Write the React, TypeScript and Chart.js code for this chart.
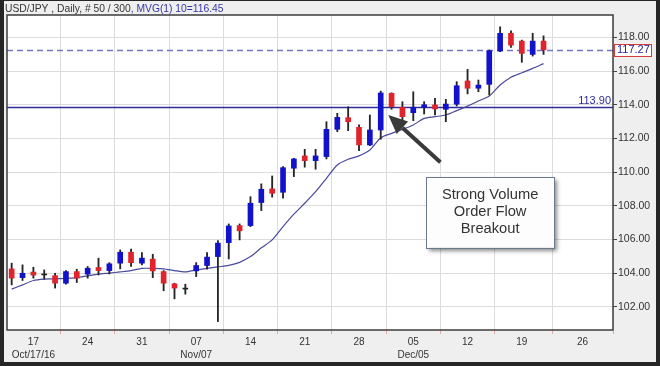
import { useEffect, useRef } from "react";
import { Chart, registerables } from "chart.js";

Chart.register(...registerables);

// ---- data ----
const openP = [104.26, 103.74, 104.07, 103.9, 103.86, 103.41, 104.1, 103.95, 104.34, 104.16,
  104.6, 105.25, 104.6, 104.84, 104.1, 103.37, 103.06, 104.14, 104.46, 104.99,
  105.82, 106.83, 106.83, 108.2, 109.01, 108.81, 110.24, 110.97, 110.69, 110.93,
  112.55, 113.24, 112.67, 111.62, 112.51, 114.69, 113.86, 113.54, 113.86, 114.0,
  113.74, 114.04, 115.42, 114.99, 115.22, 117.2, 118.25, 117.79, 117.0, 117.79];
const highP = [104.6, 104.5, 104.36, 104.2, 104.0, 104.16, 104.24, 104.4, 104.9, 104.63,
  105.39, 105.43, 105.23, 105.13, 104.16, 103.41, 103.35, 104.63, 105.23, 105.94,
  106.93, 106.93, 108.55, 109.31, 109.78, 110.33, 110.83, 111.36, 111.36, 113.0,
  113.5, 113.89, 112.81, 113.4, 114.82, 114.72, 114.19, 114.78, 114.19, 114.39,
  114.33, 115.38, 116.11, 115.48, 117.26, 118.64, 118.4, 117.85, 118.25, 118.1];
const lowP = [103.31, 103.57, 103.71, 103.65, 103.12, 103.35, 103.45, 103.71, 103.9, 103.96,
  104.26, 104.4, 104.5, 103.74, 102.96, 102.48, 102.76, 103.8, 104.24, 101.13,
  104.85, 105.98, 106.77, 107.72, 108.52, 108.46, 109.74, 110.3, 110.18, 110.79,
  112.41, 112.47, 111.28, 111.58, 111.96, 113.74, 113.1, 113.06, 113.46, 113.4,
  113.0, 113.93, 114.65, 114.78, 114.59, 117.16, 117.42, 116.53, 116.9, 117.0];
const closeP = [103.71, 104.0, 103.89, 103.93, 103.41, 104.1, 103.71, 104.3, 104.16, 104.56,
  105.25, 104.63, 104.9, 104.14, 103.41, 103.12, 103.07, 104.46, 104.96, 105.79,
  106.81, 106.52, 108.16, 108.99, 108.75, 110.27, 110.79, 110.69, 110.97, 112.55,
  113.26, 113.0, 111.62, 112.51, 114.71, 113.89, 113.3, 113.86, 114.01, 113.76,
  114.05, 115.14, 114.99, 115.18, 117.22, 118.25, 117.55, 117.06, 117.79, 117.27];
const maP = [103.06, 103.31, 103.57, 103.65, 103.67, 103.7, 103.74, 103.85, 103.95, 104.01,
  104.08, 104.16, 104.29, 104.29, 104.26, 104.16, 104.08, 104.2, 104.29, 104.38,
  104.47, 104.65, 104.99, 105.51, 105.98, 106.77, 107.51, 108.16, 108.85, 109.64,
  110.43, 110.77, 110.97, 111.32, 112.05, 112.31, 112.55, 112.81, 113.2, 113.3,
  113.4, 113.66, 113.93, 114.23, 114.53, 115.18, 115.64, 115.91, 116.17, 116.45];

const xTickPos = [2, 7, 12, 17, 22, 27, 32, 37, 42, 47, 52.6];
const xTickDay = ["17", "24", "31", "07", "14", "21", "28", "05", "12", "19", "26"];
const xTickMonth = ["Oct/17/16", "", "", "Nov/07", "", "", "", "Dec/05", "", "", ""];
const yTicks = [102, 104, 106, 108, 110, 112, 114, 116, 118];

const lastClose = 117.27;
const levelValue = 113.9;
const titleMain = "USD/JPY , Daily, # 50 / 300";
const titleMA = ", MVG(1) 10=116.45";
const noteLines = ["Strong Volume", "Order Flow", "Breakout"];
// annotation anchors in data units (bar index, price)
const arrowFrom = [39.5, 110.6];
const arrowTo = [34.7, 113.4];
const noteBox = [38.18, 109.72, 49.98, 105.51];

const FONT = '"Liberation Sans", Arial, sans-serif';
const UP = "#1212cc";
const DOWN = "#e3232c";
const DOJI = "#222222";

const idx = closeP.map((_, i) => i);

const overlayPlugin = {
  id: "overlay",
  beforeDraw(chart: any) {
    const { ctx, width, height, chartArea: a } = chart;
    ctx.save();
    ctx.fillStyle = "#262626";
    ctx.fillRect(0, 0, width, height);
    ctx.fillStyle = "#efefef";
    ctx.fillRect(4, 1, width - 8, height - 5);
    ctx.fillStyle = "#ffffff";
    ctx.fillRect(a.left, a.top, a.right - a.left, a.bottom - a.top);
    ctx.font = "10.3px " + FONT;
    ctx.textBaseline = "middle";
    ctx.textAlign = "left";
    ctx.fillStyle = "#333333";
    ctx.fillText(titleMain, 5, 9.5);
    const w = ctx.measureText(titleMain).width;
    ctx.fillStyle = "#3636a6";
    ctx.fillText(titleMA, 5 + w, 9.5);
    ctx.restore();
  },
  beforeDatasetsDraw(chart: any) {
    const { ctx, chartArea: a, scales } = chart;
    const y = scales.y;
    ctx.save();
    const yd = Math.round(y.getPixelForValue(lastClose)) + 0.5;
    ctx.strokeStyle = "#7676c6";
    ctx.lineWidth = 1.5;
    ctx.setLineDash([6, 4]);
    ctx.beginPath();
    ctx.moveTo(a.left, yd);
    ctx.lineTo(a.right, yd);
    ctx.stroke();
    ctx.setLineDash([]);
    const yl = Math.round(y.getPixelForValue(levelValue)) + 0.5;
    ctx.strokeStyle = "#2d2d9c";
    ctx.lineWidth = 1.3;
    ctx.beginPath();
    ctx.moveTo(a.left, yl);
    ctx.lineTo(a.right, yl);
    ctx.stroke();
    ctx.restore();
  },
  afterDatasetsDraw(chart: any) {
    const { ctx, chartArea: a, scales } = chart;
    const x = scales.x;
    const y = scales.y;
    ctx.save();
    // level label
    const yl = y.getPixelForValue(levelValue);
    ctx.font = "11px " + FONT;
    ctx.fillStyle = "#2b2ba0";
    ctx.textAlign = "right";
    ctx.textBaseline = "bottom";
    ctx.fillText(levelValue.toFixed(2), a.right - 2, yl);
    // arrow
    const x0 = x.getPixelForValue(arrowFrom[0]);
    const y0 = y.getPixelForValue(arrowFrom[1]);
    const x1 = x.getPixelForValue(arrowTo[0]);
    const y1 = y.getPixelForValue(arrowTo[1]);
    const ang = Math.atan2(y1 - y0, x1 - x0);
    const headLen = 19;
    const headW = 8.5;
    const bx = x1 - headLen * Math.cos(ang);
    const by = y1 - headLen * Math.sin(ang);
    ctx.strokeStyle = "#3a3a3a";
    ctx.fillStyle = "#3a3a3a";
    ctx.lineWidth = 4;
    ctx.lineCap = "butt";
    ctx.beginPath();
    ctx.moveTo(x0, y0);
    ctx.lineTo(bx, by);
    ctx.stroke();
    ctx.beginPath();
    ctx.moveTo(x1, y1);
    ctx.lineTo(bx + headW * Math.sin(ang), by - headW * Math.cos(ang));
    ctx.lineTo(bx - headW * Math.sin(ang), by + headW * Math.cos(ang));
    ctx.closePath();
    ctx.fill();
    // note box
    const l = x.getPixelForValue(noteBox[0]);
    const t = y.getPixelForValue(noteBox[1]);
    const r = x.getPixelForValue(noteBox[2]);
    const b = y.getPixelForValue(noteBox[3]);
    ctx.save();
    ctx.shadowColor = "rgba(0,0,0,0.45)";
    ctx.shadowBlur = 4;
    ctx.shadowOffsetX = 3;
    ctx.shadowOffsetY = 3;
    ctx.fillStyle = "#fdfdfe";
    ctx.fillRect(l, t, r - l, b - t);
    ctx.restore();
    ctx.strokeStyle = "#6b7b8c";
    ctx.lineWidth = 1;
    ctx.strokeRect(Math.round(l) + 0.5, Math.round(t) + 0.5, Math.round(r - l), Math.round(b - t));
    ctx.font = "14.7px " + FONT;
    ctx.fillStyle = "#333333";
    ctx.textAlign = "center";
    ctx.textBaseline = "middle";
    const cx = (l + r) / 2;
    const cy = (t + b) / 2;
    const lh = 17;
    noteLines.forEach((s, k) => {
      ctx.fillText(s, cx, cy + (k - (noteLines.length - 1) / 2) * lh);
    });
    ctx.restore();
  },
  afterDraw(chart: any) {
    const { ctx, chartArea: a, scales } = chart;
    ctx.save();
    ctx.strokeStyle = "#3c3c3c";
    ctx.lineWidth = 1.5;
    ctx.strokeRect(a.left, a.top, a.right - a.left, a.bottom - a.top);
    const yd = scales.y.getPixelForValue(lastClose);
    ctx.fillStyle = "#ffffff";
    ctx.fillRect(a.right + 2, yd - 6, 37, 12);
    ctx.strokeStyle = "#d23c3c";
    ctx.lineWidth = 1;
    ctx.strokeRect(Math.round(a.right) + 1.5, Math.round(yd - 6) + 0.5, 37, 12);
    ctx.font = "11px " + FONT;
    ctx.fillStyle = "#2222a0";
    ctx.textAlign = "left";
    ctx.textBaseline = "middle";
    ctx.fillText(lastClose.toFixed(2), a.right + 4, yd + 0.5);
    ctx.restore();
  },
};

export default function App() {
  const ref = useRef<HTMLCanvasElement | null>(null);
  useEffect(() => {
    document.body.style.margin = "0";
    const canvas = ref.current;
    if (!canvas) return;
    const bodyColors = idx.map((i) =>
      Math.abs(closeP[i] - openP[i]) < 0.05 ? DOJI : closeP[i] > openP[i] ? UP : DOWN
    );
    const chart = new Chart(canvas, {
      type: "bar",
      data: {
        datasets: [
          {
            type: "line",
            data: idx.map((i) => ({ x: i, y: maP[i] })),
            borderColor: "#4a4a9c",
            borderWidth: 1.2,
            pointRadius: 0,
            tension: 0.25,
            order: 3,
          } as any,
          {
            data: idx.map((i) => ({ x: i, y: [lowP[i], highP[i]] })),
            backgroundColor: "#262626",
            barThickness: 1.2,
            grouped: false,
            order: 2,
          },
          {
            data: idx.map((i) => ({ x: i, y: [openP[i], closeP[i]] })),
            backgroundColor: bodyColors,
            barThickness: 5,
            minBarLength: 1,
            grouped: false,
            order: 1,
          },
        ],
      },
      options: {
        responsive: false,
        maintainAspectRatio: false,
        animation: false,
        devicePixelRatio: 1,
        layout: { padding: { left: 7, top: 15, right: 0, bottom: 0 } },
        plugins: { legend: { display: false }, tooltip: { enabled: false } },
        scales: {
          x: {
            type: "linear",
            min: -0.43,
            max: 55.4,
            offset: false,
            border: { display: false },
            grid: { color: "#dcdcdc", tickColor: "#e6a8a8", tickLength: 4, lineWidth: 1 },
            afterBuildTicks: (s: any) => {
              s.ticks = xTickPos.map((v) => ({ value: v }));
            },
            afterFit: (s: any) => {
              s.height = 36;
            },
            ticks: {
              autoSkip: false,
              maxRotation: 0,
              padding: 2,
              color: "#333333",
              font: { family: FONT, size: 10, lineHeight: 1.3 },
              callback: (_v: any, k: number) =>
                xTickMonth[k] ? [xTickDay[k], xTickMonth[k]] : xTickDay[k],
            },
          },
          y: {
            type: "linear",
            position: "right",
            min: 100.63,
            max: 119.34,
            border: { display: false },
            grid: { color: "#dcdcdc", tickColor: "#444444", tickLength: 4, lineWidth: 1 },
            afterBuildTicks: (s: any) => {
              s.ticks = yTicks.map((v) => ({ value: v }));
            },
            afterFit: (s: any) => {
              s.width = 47;
            },
            ticks: {
              padding: 1,
              color: "#333333",
              font: { family: FONT, size: 10.5 },
              callback: (v: any) => Number(v).toFixed(2),
            },
          },
        },
      },
      plugins: [overlayPlugin],
    } as any);
    return () => chart.destroy();
  }, []);
  return (
    <div style={{ width: 660, height: 366, position: "fixed", left: 0, top: 0 }}>
      <canvas ref={ref} width={660} height={366} />
    </div>
  );
}
